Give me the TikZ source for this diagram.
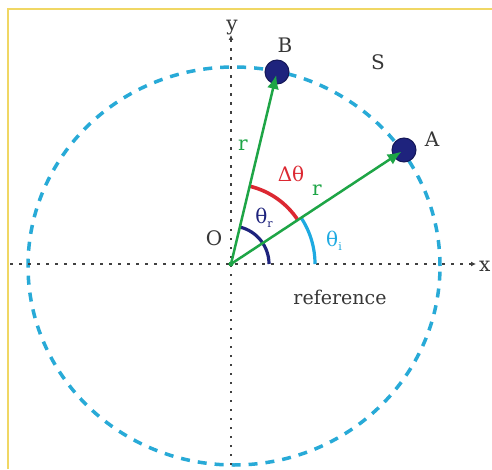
\documentclass[tikz,border=0pt]{standalone}
\usepackage{fontspec}
\setmainfont{DejaVu Serif}
\usetikzlibrary{arrows.meta}
\definecolor{circ}{RGB}{40,170,215}
\definecolor{grn}{RGB}{30,165,70}
\definecolor{navy}{RGB}{30,35,125}
\definecolor{redc}{RGB}{220,40,50}
\definecolor{cyanc}{RGB}{30,170,225}
\definecolor{txt}{RGB}{55,55,55}
\definecolor{frame}{RGB}{240,215,100}
\begin{document}
\begin{tikzpicture}[x=1pt,y=1pt,
  lbl/.style={font=\fontsize{20}{22}\selectfont, text=txt, inner sep=0pt},
  axis/.style={line width=1.8pt, black!75, dash pattern=on 2.5pt off 6.5pt, -{Latex[length=5pt,width=5pt]}},
  vec/.style={line width=2.5pt, grn, -{Latex[length=14pt,width=12pt]}, shorten >=3pt},
  dotc/.style={circle, fill=navy, draw=navy!70!black, line width=1pt, minimum size=24pt, inner sep=0pt}]
\useasboundingbox (0,0) rectangle (492,469);
\fill[white] (0,0) rectangle (492,469);
\draw[frame, line width=1.2pt] (8,0) -- (8,460) -- (492,460);
% circle
\draw[circ, line width=3.5pt, dash pattern=on 9pt off 8pt] (234,203) ellipse [x radius=206, y radius=199];
% axes
\coordinate (O) at (231,205);
\coordinate (xl) at (10,205);
\coordinate (xr) at (476,205);
\coordinate (yb) at (231,4);
\coordinate (yt) at (231,434);
\draw[axis] (xl) -- (xr);
\draw[axis] (yb) -- (yt);
% dots
\node[dotc] (B) at (277,397) {};
\node[dotc] (A) at (404,319) {};
% arcs
\draw[navy, line width=3.2pt] (O) ++(0:38) arc[start angle=0, end angle=76.5, radius=38];
\draw[cyanc, line width=3.2pt] (O) ++(0:84) arc[start angle=0, end angle=33.4, radius=84];
\draw[redc, line width=3.6pt] (O) ++(33.4:80) arc[start angle=33.4, end angle=76.5, radius=80];
% vectors
\draw[vec] (O) -- (B.center);
\draw[vec] (O) -- (A.center);
\fill[grn] (O) circle (2.5pt);
% labels
\node[lbl] (ly) at (232,441) {y};
\node[lbl, anchor=west] (lx) at (479,203) {x};
\node[lbl] (lB) at (285,424) {B};
\node[lbl] (lS) at (378,407) {S};
\node[lbl] (lA) at (432,330) {A};
\node[lbl] (lO) at (214,231) {O};
\node[lbl, text=grn] (r1) at (243,324) {r};
\node[lbl, text=grn] (r2) at (317,279) {r};
\node[lbl, text=redc] (dt) at (291,295) {Δθ};
\node[lbl, text=navy] (tr) at (264,251) {θ\raisebox{-4pt}{\fontsize{11}{12}\selectfont r}};
\node[lbl, text=cyanc] (ti) at (334,228) {θ\raisebox{-4pt}{\fontsize{11}{12}\selectfont i}};
\node[lbl, font=\fontsize{19}{21}\selectfont] (ref) at (340,172) {reference};
\end{tikzpicture}
\end{document}
